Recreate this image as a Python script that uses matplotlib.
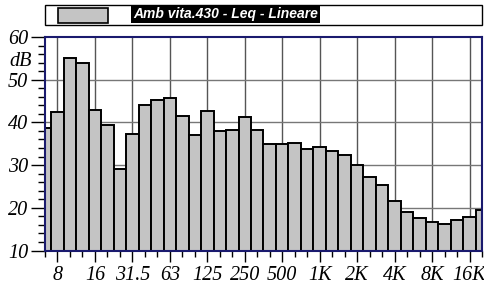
import matplotlib
matplotlib.use("Agg")
import matplotlib.pyplot as plt
from matplotlib.patches import Rectangle
import numpy as np

bands = ["6.3","8","10","12.5","16","20","25","31.5","40","50","63","80","100","125","160","200",
         "250","315","400","500","630","800","1K","1.25K","1.6K","2K","2.5K","3.15K","4K","5K",
         "6.3K","8K","10K","12.5K","16K","20K"]
levels = [38.8,42.5,55.1,54.0,42.8,39.3,29.1,37.4,44.0,45.2,45.6,41.6,37.1,42.7,38.1,38.2,
          41.3,38.2,34.9,35.0,35.2,33.8,34.3,33.4,32.3,30.1,27.3,25.3,21.5,19.0,
          17.6,16.6,16.3,17.1,17.9,19.6]
tick_labels = ["8","16","31.5","63","125","250","500","1K","2K","4K","8K","16K"]
legend_text = "Amb vita.430 - Leq - Lineare"

W, H = 485, 286
fig = plt.figure(figsize=(W/100, H/100), dpi=100)
ax = fig.add_axes([45/W, 1-250.5/H, (482-45)/W, (250.5-37)/H])

x = np.arange(len(bands))
ax.set_xlim(0, len(bands)-1)
ax.set_ylim(10, 60)

major_idx = [bands.index(t) for t in tick_labels]
for i in major_idx:
    ax.axvline(i, color='#555555', lw=1.0, zorder=0)
for yv in [20, 30, 40, 50]:
    ax.axhline(yv, color='#777777', lw=1.0, zorder=0)

ax.bar(x, np.array(levels)-10, bottom=10, width=1.0, facecolor='#c4c4c4',
       edgecolor='black', linewidth=1.4, zorder=2, clip_on=True)

ax.set_xticks(major_idx)
ax.set_xticklabels(tick_labels)
ax.set_xticks(x, minor=True)
ax.set_yticks([10,20,30,40,50,60])
ax.set_yticks(np.arange(10, 61, 2), minor=True)

font = dict(family='Liberation Serif', style='italic', size=14.5)
for lab in ax.get_xticklabels() + ax.get_yticklabels():
    lab.set_fontfamily('Liberation Serif')
    lab.set_fontstyle('italic')
    lab.set_fontsize(14.5)
ax.tick_params(axis='y', which='major', length=10, width=1.0, color='black', pad=2)
ax.tick_params(axis='y', which='minor', length=5, width=1.0, color='black')
ax.tick_params(axis='x', which='major', length=8, width=1.0, color='black', pad=3)
ax.tick_params(axis='x', which='minor', length=4, width=1.0, color='black')

for s in ax.spines.values():
    s.set_color('#1a1a6e')
    s.set_linewidth(1.5)
    s.set_zorder(5)

fig.text(32/W, 1-62/H, "dB", ha='right', va='center', **font)

# legend box
fig.patches.append(Rectangle((45/W, 1-25/H), (482-45)/W, 20/H, transform=fig.transFigure,
                             facecolor='white', edgecolor='black', lw=1.0))
fig.patches.append(Rectangle((58/W, 1-23/H), 50/W, 15/H, transform=fig.transFigure,
                             facecolor='#c4c4c4', edgecolor='black', lw=1.2))
fig.text(133/W, 1-14/H, legend_text, ha='left', va='center', color='white',
         fontsize=10, fontweight='bold', fontstyle='italic', family='Liberation Sans',
         bbox=dict(facecolor='black', edgecolor='none', pad=1.2))

fig.savefig("out.png", dpi=100)
